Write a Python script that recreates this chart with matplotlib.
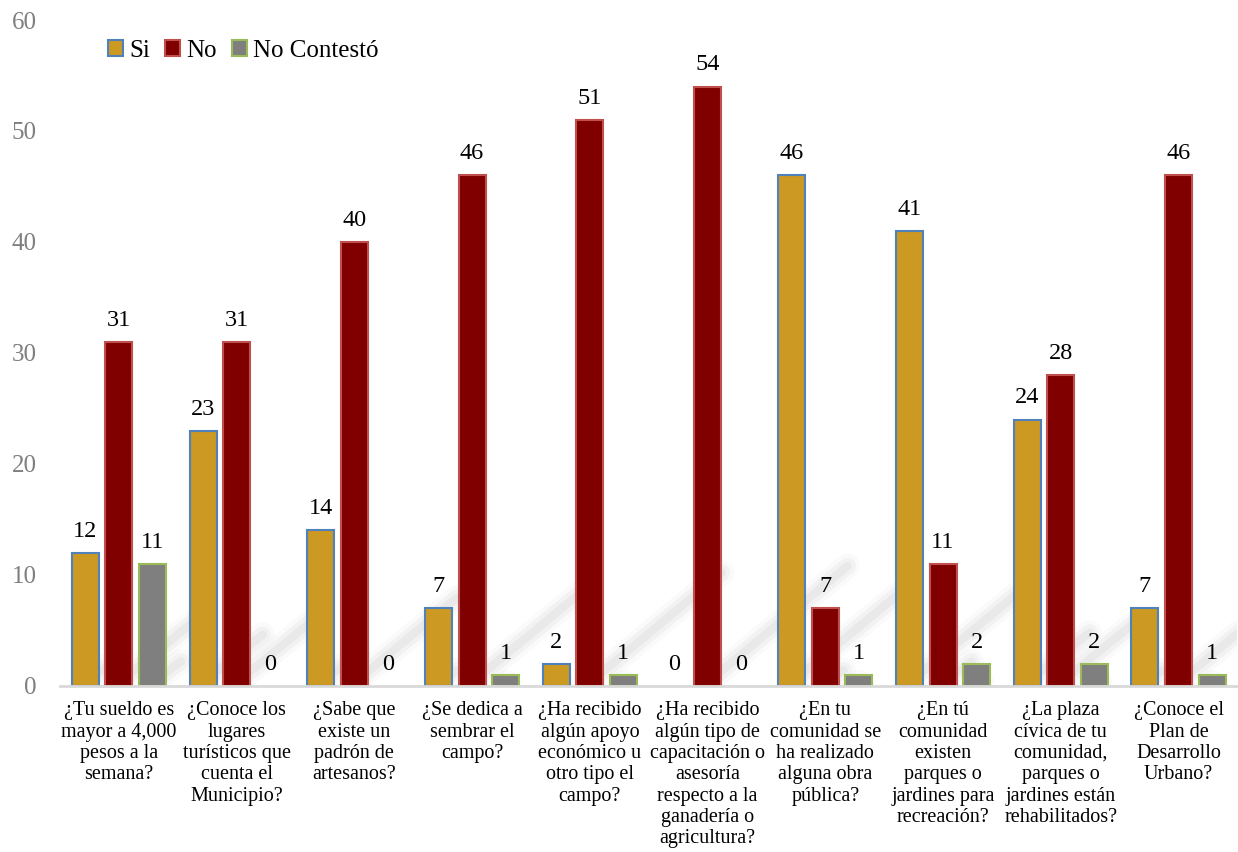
import matplotlib.pyplot as plt
import numpy as np

categories = [
    "¿Tu sueldo es\nmayor a 4,000\npesos a la\nsemana?",
    "¿Conoce los\nlugares\nturísticos que\ncuenta el\nMunicipio?",
    "¿Sabe que\nexiste un\npadrón de\nartesanos?",
    "¿Se dedica a\nsembrar el\ncampo?",
    "¿Ha recibido\nalgún apoyo\neconómico u\notro tipo el\ncampo?",
    "¿Ha recibido\nalgún tipo de\ncapacitación o\nasesoría\nrespecto a la\nganadería o\nagricultura?",
    "¿En tu\ncomunidad se\nha realizado\nalguna obra\npública?",
    "¿En tú\ncomunidad\nexisten\nparques o\njardines para\nrecreación?",
    "¿La plaza\ncívica de tu\ncomunidad,\nparques o\njardines están\nrehabilitados?",
    "¿Conoce el\nPlan de\nDesarrollo\nUrbano?",
]
si = [12, 23, 14, 7, 2, 0, 46, 41, 24, 7]
no = [31, 31, 40, 46, 51, 54, 7, 11, 28, 46]
no_contesto = [11, 0, 0, 1, 1, 0, 1, 2, 2, 1]
series_names = ["Si", "No", "No Contestó"]

plt.rcParams["font.family"] = ["Liberation Serif", "DejaVu Serif"]

fills = ["#CC9922", "#800000", "#7F7F7F"]
edges = ["#4F81BD", "#C0504D", "#9BBB59"]

fig = plt.figure(figsize=(12.38, 8.52), dpi=100)
ax = fig.add_axes([0.0485, 0.195, 0.951, 0.7815])

x = np.arange(len(categories))
width = 0.23
step = 0.285

for i, (vals, name) in enumerate(zip([si, no, no_contesto], series_names)):
    pos = x + (i - 1) * step
    bars = ax.bar(pos, vals, width=width, color=fills[i], edgecolor=edges[i],
                  linewidth=1.5, label=name, zorder=3)
    for b, v in zip(bars, vals):
        if v == 0:
            b.set_linewidth(0)
        else:
            # soft diagonal shadow behind the bar
            xc = b.get_x() + b.get_width() / 2
            for lw, a in [(18, 0.04), (12, 0.06), (6, 0.08)]:
                ax.plot([xc, xc + 0.022 * v], [0.3, 0.2 * v], color="#808080",
                        lw=lw, alpha=a, solid_capstyle="round", zorder=1)
        ax.annotate(str(v), (b.get_x() + b.get_width() / 2, v),
                    xytext=(0, 8), textcoords="offset points",
                    ha="center", va="bottom", fontsize=17.5, color="black")

ax.set_xlim(-0.5, len(categories) - 0.5)
ax.set_ylim(0, 60)
ax.set_yticks(range(0, 61, 10))
ax.set_xticks(x)
ax.set_xticklabels(categories, fontsize=14.5, linespacing=1.17, va="top")
ax.tick_params(axis="y", length=0, labelsize=18, labelcolor="#7F7F7F", pad=17)
ax.tick_params(axis="x", length=0, pad=11)

for s in ["top", "right", "left"]:
    ax.spines[s].set_visible(False)
ax.spines["bottom"].set_color("#D9D9D9")
ax.spines["bottom"].set_linewidth(2)
ax.spines["bottom"].set_zorder(4)

ax.legend(loc="upper left", bbox_to_anchor=(0.032, 0.985), ncol=3, frameon=False,
          fontsize=18, handlelength=0.6, handleheight=0.6, handletextpad=0.25,
          columnspacing=0.6, borderaxespad=0)

fig.savefig("out.png", dpi=100)
